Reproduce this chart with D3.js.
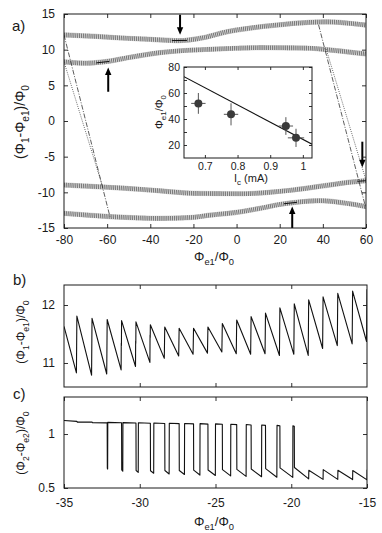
<!DOCTYPE html>
<html><head><meta charset="utf-8">
<script src="https://cdn.jsdelivr.net/npm/d3@7"></script>
<style>
body{margin:0;background:#fff}
svg text{font-family:"Liberation Sans",Arial,Helvetica,sans-serif;fill:#1a1a1a}
</style>
</head><body>
<svg id="chart" width="382" height="533"></svg>
<script>
// ---------------- DATA ----------------
// Panel a: centre lines of the four oscillating branches (Phi_e1/Phi0 , (Phi1-Phi_e1)/Phi0)
const band1X = [-80, -65, -51, -40, -27, -15, -4.6, 8, 18.6, 30, 41.8, 52, 60];
const band1Y = [12.06, 11.85, 11.6, 11.45, 11.26, 11.7, 12.5, 13.1, 13.45, 13.75, 13.9, 13.7, 13.45];
const band2X = [-80, -70, -60, -50, -35.5, -20, -12.3, 0, 10.9, 25, 34, 45, 60];
const band2Y = [8.3, 8.1, 8.35, 8.9, 9.58, 9.95, 10.05, 10.2, 10.28, 10.25, 10.2, 9.9, 9.4];
const band3X = [-80, -65, -51, -35, -20, 3, 15, 26.2, 40, 49.4, 60];
const band3Y = [-8.97, -9.2, -9.44, -9.8, -10.14, -10.2, -10.0, -9.67, -9.1, -8.7, -8.37];
const band4X = [-80, -58.7, -35.5, -20, -12.3, 0, 10.9, 20, 26.2, 38.6, 50, 60];
const band4Y = [-12.95, -13.4, -13.65, -13.5, -13.2, -12.8, -12.24, -11.7, -11.45, -11.17, -11.5, -12.0];
// switching lines [x0, y0, x1, y1]
const dashLines = [[-80, 12.06, -58.7, -13.4], [38, 13.5, 60, -12.3]];
const dotLines = [[-80, 8.3, -62, -9.3], [41.5, 10.1, 60, -8.3]];
// short dark segments where the arrows point [x0, y0, x1, y1]
const darkSegs = [[-30, 11.27, -23, 11.3], [-65, 8.15, -59, 8.35], [22, -11.6, 28, -11.4], [56, -8.45, 60, -8.37]];
// arrows: x, tail y, head y
const arrowX = [-26.2, -59.5, 58.3, 25.8];
const arrowTail = [14.9, 4.1, -2.9, -15];
const arrowHead = [12.1, 7.5, -6.5, -12.0];
// inset
const insetIc = [0.68, 0.78, 0.948, 0.979];
const insetPhi = [52, 43.6, 34.6, 25.5];
const insetIcErr = [0.022, 0.022, 0.022, 0.025];
const insetPhiErr = [8, 8.5, 6.8, 7];
const insetLineIc = [0.636, 1.028];
const insetLinePhi = [72.6, 20.6];
// Panel b: sawtooth (jump positions, values just before and after each jump, intermediate step if any)
const bStart = [-35, 11.63];
const bJumpX = [-34.15, -33.15, -32.15, -31.2, -30.25, -29.3, -28.35, -27.4, -26.45, -25.5, -24.55, -23.6, -22.65, -21.7, -20.75, -19.8, -18.85, -17.9, -16.93, -15.95, -15.0];
const bLow   = [10.83, 10.79, 10.81, 10.88, 10.94, 11.01, 11.08, 11.12, 11.15, 11.17, 11.19, 11.16, 11.15, 11.16, 11.13, 11.15, 11.13, 11.25, 11.3, 11.33, 11.37];
const bMid   = [null, null, null, 11.34, 11.38, 11.48, null, null, null, null, null, null, null, null, null, null, null, null, null, null, null];
const bHigh  = [11.81, 11.77, 11.75, 11.73, 11.71, 11.66, 11.62, 11.6, 11.6, 11.62, 11.68, 11.74, 11.8, 11.86, 11.95, 12.02, 12.09, 12.14, 12.2, 12.24, 12.27];
// Panel c
const cPreX = [-35, -34.15, -34.12, -33.15, -33.12];
const cPreY = [1.125, 1.117, 1.11, 1.112, 1.104];
const cDropX = [-32.15, -31.2, -30.25, -29.3, -28.35, -27.4, -26.45, -25.5, -24.55, -23.6, -22.65, -21.7, -20.75, -19.8];
const cTopY  = [1.103, 1.104, 1.102, 1.1, 1.098, 1.096, 1.094, 1.092, 1.09, 1.087, 1.084, 1.08, 1.076, 1.072];
const cLowStart = [0.682, 0.667, 0.662, 0.66, 0.662, 0.662, 0.665, 0.667, 0.67, 0.672, 0.676, 0.68, 0.686, 0.69];
const cRiseX = [-32.12, -31.12, -30.1, -29.08, -28.06, -27.05, -26.03, -25.01, -24.0, -22.98, -21.96, -20.95, -19.9];
const cLowEnd = [0.675, 0.655, 0.645, 0.637, 0.63, 0.625, 0.62, 0.616, 0.612, 0.608, 0.604, 0.6, 0.598];
const cBumpX = [-18.85, -17.9, -16.93, -15.95, -15.0];
const cBumpLow = [0.585, 0.58, 0.58, 0.578, 0.575];
const cBumpHigh = [0.665, 0.67, 0.665, 0.662, 0.668];

// ---------------- HELPERS ----------------
const svg = d3.select("#chart");
const INK = "#1a1a1a";

function rich(textSel, parts, size) {
  let down = false;
  const off = size * 0.3;
  parts.forEach(([t, sub]) => {
    const ts = textSel.append("tspan").text(t);
    if (sub && !down) { ts.attr("dy", off).attr("font-size", size * 0.72); down = true; }
    else if (sub) { ts.attr("font-size", size * 0.72); }
    else if (!sub && down) { ts.attr("dy", -off); down = false; }
  });
  return textSel;
}

function frame(g, x, y, o) {
  const [x0, x1] = x.range();
  const [yb, yt] = y.range();
  const tl = o.tickLen || 4;
  const fmt = d => String(d);
  const style = (ax) => {
    ax.select(".domain").remove();
    ax.selectAll(".tick line").attr("stroke", INK).attr("stroke-width", 0.9);
    ax.selectAll(".tick text").attr("font-size", o.fs || 12).attr("font-family", null).attr("fill", INK);
    ax.attr("font-family", null);
  };
  g.append("g").attr("transform", `translate(0,${yb})`)
    .call(d3.axisBottom(x).tickValues(o.xTicks).tickSize(-tl).tickPadding(o.xPad || 6).tickFormat(o.xLabels ? (o.xFmt || fmt) : ""))
    .call(style);
  g.append("g").attr("transform", `translate(0,${yt})`)
    .call(d3.axisTop(x).tickValues(o.xTicks).tickSize(-tl).tickFormat(""))
    .call(style);
  g.append("g").attr("transform", `translate(${x0},0)`)
    .call(d3.axisLeft(y).tickValues(o.yTicks).tickSize(-tl).tickPadding(o.yPad || 8).tickFormat(d => (o.yLabelVals ? (o.yLabelVals.includes(d) ? (o.yFmt || fmt)(d) : "") : (o.yFmt || fmt)(d))))
    .call(style);
  g.append("g").attr("transform", `translate(${x1},0)`)
    .call(d3.axisRight(y).tickValues(o.yTicks).tickSize(-tl).tickFormat(""))
    .call(style);
  g.append("rect").attr("x", x0).attr("y", yt).attr("width", x1 - x0).attr("height", yb - yt)
    .attr("fill", "none").attr("stroke", INK).attr("stroke-width", 1);
}

function clip(id, x, y) {
  const [x0, x1] = x.range();
  const [yb, yt] = y.range();
  svg.append("clipPath").attr("id", id).append("rect")
    .attr("x", x0).attr("y", yt).attr("width", x1 - x0).attr("height", yb - yt);
  return `url(#${id})`;
}

// ---------------- PANEL A ----------------
const xa = d3.scaleLinear().domain([-80, 60]).range([64, 366]);
const ya = d3.scaleLinear().domain([-15, 15]).range([228, 14]);
const ga = svg.append("g");
const clipA = clip("clipA", xa, ya);
const pa = ga.append("g").attr("clip-path", clipA);

const lineA = d3.line().x(d => xa(d[0])).y(d => ya(d[1])).curve(d3.curveMonotoneX);
const bands = [[band1X, band1Y], [band2X, band2Y], [band3X, band3Y], [band4X, band4Y]];
bands.forEach(([bx, by]) => {
  const pts = bx.map((v, i) => [v, by[i]]);
  pa.append("path").attr("d", lineA(pts)).attr("fill", "none")
    .attr("stroke", "#cfcfcf").attr("stroke-width", 5.2);
  pa.append("path").attr("d", lineA(pts)).attr("fill", "none")
    .attr("stroke", "#666").attr("stroke-width", 4.6).attr("stroke-dasharray", "0.8,1.1");
});
dashLines.forEach(l => {
  pa.append("line").attr("x1", xa(l[0])).attr("y1", ya(l[1])).attr("x2", xa(l[2])).attr("y2", ya(l[3]))
    .attr("stroke", "#333").attr("stroke-width", 0.8).attr("stroke-dasharray", "5,1.5,1,1.5");
});
dotLines.forEach(l => {
  pa.append("line").attr("x1", xa(l[0])).attr("y1", ya(l[1])).attr("x2", xa(l[2])).attr("y2", ya(l[3]))
    .attr("stroke", "#444").attr("stroke-width", 0.8).attr("stroke-dasharray", "1,1.2");
});
darkSegs.forEach(l => {
  pa.append("line").attr("x1", xa(l[0])).attr("y1", ya(l[1])).attr("x2", xa(l[2])).attr("y2", ya(l[3]))
    .attr("stroke", "#111").attr("stroke-width", 1);
});
arrowX.forEach((ax, i) => {
  const px = xa(ax), yT = ya(arrowTail[i]), yH = ya(arrowHead[i]);
  const dir = Math.sign(yH - yT);
  const hl = 7.5, hw = 3.2;
  ga.append("line").attr("x1", px).attr("y1", yT).attr("x2", px).attr("y2", yH - dir * hl * 0.8)
    .attr("stroke", "#000").attr("stroke-width", 2);
  ga.append("path").attr("d", `M${px - hw},${yH - dir * hl}L${px + hw},${yH - dir * hl}L${px},${yH}Z`).attr("fill", "#000");
});
frame(ga, xa, ya, { xTicks: d3.range(-80, 61, 20), yTicks: d3.range(-15, 16, 5), xLabels: true, xPad: 7, yPad: 9, fs: 12 });

svg.append("text").attr("x", 12).attr("y", 31).attr("font-size", 15).text("a)");
rich(svg.append("text").attr("transform", "translate(25,122) rotate(-90)").attr("text-anchor", "middle").attr("font-size", 14),
  [["(Φ"], ["1", 1], ["-Φ"], ["e1", 1], [")/Φ"], ["0", 1]], 14);
rich(svg.append("text").attr("x", 214).attr("y", 261).attr("text-anchor", "middle").attr("font-size", 13),
  [["Φ"], ["e1", 1], ["/Φ"], ["0", 1]], 13);

// inset
const xi = d3.scaleLinear().domain([0.636, 1.028]).range([184, 312]);
const yi = d3.scaleLinear().domain([10, 80]).range([158, 67]);
const gi = svg.append("g");
gi.append("rect").attr("x", 184).attr("y", 67).attr("width", 128).attr("height", 91).attr("fill", "#fff");
const clipI = clip("clipI", xi, yi);
const pi = gi.append("g").attr("clip-path", clipI);
pi.append("line").attr("x1", xi(insetLineIc[0])).attr("y1", yi(insetLinePhi[0]))
  .attr("x2", xi(insetLineIc[1])).attr("y2", yi(insetLinePhi[1])).attr("stroke", "#111").attr("stroke-width", 1.1);
insetIc.forEach((v, i) => {
  const cx = xi(v), cy = yi(insetPhi[i]);
  pi.append("line").attr("x1", xi(v - insetIcErr[i])).attr("x2", xi(v + insetIcErr[i])).attr("y1", cy).attr("y2", cy)
    .attr("stroke", "#555").attr("stroke-width", 1);
  pi.append("line").attr("x1", cx).attr("x2", cx).attr("y1", yi(insetPhi[i] - insetPhiErr[i])).attr("y2", yi(insetPhi[i] + insetPhiErr[i]))
    .attr("stroke", "#555").attr("stroke-width", 1);
  pi.append("circle").attr("cx", cx).attr("cy", cy).attr("r", 4).attr("fill", "#3a3a3a");
});
frame(gi, xi, yi, { xTicks: [0.7, 0.8, 0.9, 1.0], yTicks: d3.range(20, 81, 10), yLabelVals: [20, 40, 60, 80], xLabels: true, xPad: 5, yPad: 4, fs: 10.5, tickLen: 3, xFmt: d => d === 1 ? "1" : d3.format(".1f")(d) });
rich(gi.append("text").attr("x", 251).attr("y", 182).attr("text-anchor", "middle").attr("font-size", 11),
  [["I"], ["c", 1], [" (mA)"]], 11);
rich(gi.append("text").attr("transform", "translate(163,112) rotate(-90)").attr("text-anchor", "middle").attr("font-size", 11),
  [["Φ"], ["e1", 1], ["/Φ"], ["0", 1]], 11);

// ---------------- PANEL B ----------------
const xb = d3.scaleLinear().domain([-35, -15]).range([64, 367]);
const yb = d3.scaleLinear().domain([10.586, 12.345]).range([387, 285]);
const gb = svg.append("g");
const clipB = clip("clipB", xb, yb);
const bPts = [bStart];
bJumpX.forEach((x, i) => {
  bPts.push([x - 0.03, bLow[i]]);
  if (bMid[i] !== null) { bPts.push([x - 0.02, bMid[i]]); bPts.push([x - 0.01, bMid[i] - 0.04]); }
  bPts.push([x, bHigh[i]]);
});
gb.append("g").attr("clip-path", clipB).append("path")
  .attr("d", d3.line().x(d => xb(d[0])).y(d => yb(d[1]))(bPts))
  .attr("fill", "none").attr("stroke", "#111").attr("stroke-width", 1.1).attr("stroke-linejoin", "round");
frame(gb, xb, yb, { xTicks: [-30, -25, -20], yTicks: [11, 12], xLabels: false, yPad: 9, fs: 12 });
svg.append("text").attr("x", 13).attr("y", 285).attr("font-size", 15).text("b)");
rich(svg.append("text").attr("transform", "translate(25,332) rotate(-90)").attr("text-anchor", "middle").attr("font-size", 12),
  [["(Φ"], ["1", 1], ["-Φ"], ["e1", 1], [")/Φ"], ["0", 1]], 12);

// ---------------- PANEL C ----------------
const xc = d3.scaleLinear().domain([-35, -15]).range([64, 367]);
const yc = d3.scaleLinear().domain([0.5, 1.343]).range([488, 397]);
const gc = svg.append("g");
const clipC = clip("clipC", xc, yc);
const cPts = cPreX.map((x, i) => [x, cPreY[i]]);
cDropX.forEach((x, i) => {
  cPts.push([x, cTopY[i]]);
  cPts.push([x + 0.01, cLowStart[i]]);
  if (i < cRiseX.length) {
    cPts.push([cRiseX[i], cLowEnd[i]]);
    cPts.push([cRiseX[i] + 0.01, cTopY[i + 1] + 0.004]);
  }
});
cBumpX.forEach((x, i) => { cPts.push([x, cBumpLow[i]]); cPts.push([x + 0.01, cBumpHigh[i]]); });
gc.append("g").attr("clip-path", clipC).append("path")
  .attr("d", d3.line().x(d => xc(d[0])).y(d => yc(d[1]))(cPts))
  .attr("fill", "none").attr("stroke", "#111").attr("stroke-width", 1.1).attr("stroke-linejoin", "round");
frame(gc, xc, yc, { xTicks: [-35, -30, -25, -20, -15], yTicks: [0.5, 1], xLabels: true, xPad: 10, yPad: 9, fs: 12 });
svg.append("text").attr("x", 13).attr("y", 399).attr("font-size", 15).text("c)");
rich(svg.append("text").attr("transform", "translate(25,443) rotate(-90)").attr("text-anchor", "middle").attr("font-size", 12),
  [["(Φ"], ["2", 1], ["-Φ"], ["e2", 1], [")/Φ"], ["0", 1]], 12);
rich(svg.append("text").attr("x", 214).attr("y", 526).attr("text-anchor", "middle").attr("font-size", 13),
  [["Φ"], ["e1", 1], ["/Φ"], ["0", 1]], 13);
</script>
</body></html>
